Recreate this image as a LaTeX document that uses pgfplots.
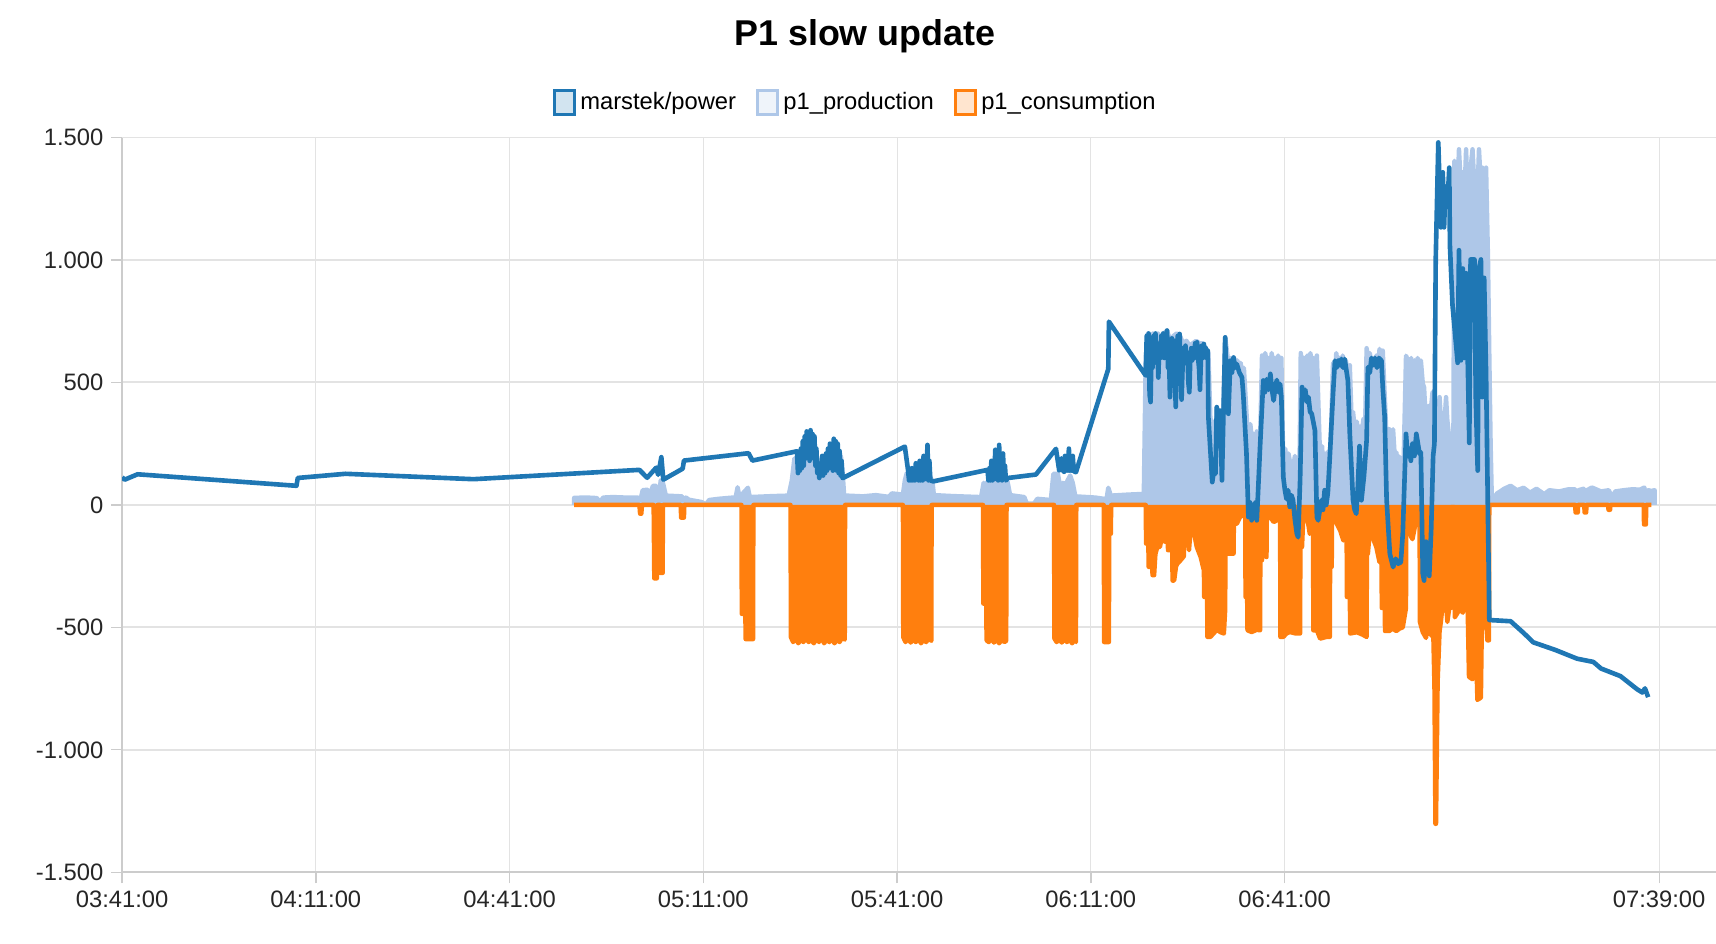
\documentclass[border=0pt]{standalone}
\usepackage{fontspec}
\setmainfont{Liberation Sans}
\usepackage{pgfplots}
\pgfplotsset{compat=1.18}
\definecolor{cm}{HTML}{1F77B4}
\definecolor{cmL}{HTML}{D2E4F0}
\definecolor{cp}{HTML}{AEC7E8}
\definecolor{cpL}{HTML}{EFF4FA}
\definecolor{cc}{HTML}{FF7F0E}
\definecolor{ccL}{HTML}{FFE5CF}
\definecolor{gridc}{HTML}{E3E3E3}
\definecolor{axc}{HTML}{CCCCCC}
\begin{document}
\begin{tikzpicture}
\begin{axis}[
 scale only axis, width=724.5pt, height=334pt,
 xmin=0, xmax=246.8, ymin=-1500, ymax=1500,
 axis lines*=left,
 axis line style={draw=axc, line width=1pt},
 xtick={0,30,60,90,120,150,180,238},
 xticklabels={03:41:00,04:11:00,04:41:00,05:11:00,05:41:00,06:11:00,06:41:00,07:39:00},
 ytick={-1500,-1000,-500,0,500,1000,1500},
 yticklabels={-1.500,-1.000,-500,0,500,1.000,1.500},
 tick align=outside, major tick length=5pt,
 tick style={draw=axc, line width=0.6pt},
 grid=major,
 x grid style={draw=gridc, line width=0.5pt},
 y grid style={draw=gridc, line width=0.9pt},
 ticklabel style={font=\fontsize{10.8}{13}\selectfont, text=black!85},
 title={P1 slow update},
 title style={at={(0.466,1)}, anchor=center, yshift=40pt, font=\bfseries\fontsize{16.3}{19}\selectfont},
 legend columns=3,
 legend style={at={(0.4607,1)}, anchor=center, yshift=16pt, draw=none, fill=none, font=\fontsize{10.8}{13}\selectfont, /tikz/every even column/.append style={column sep=7pt}},
 legend cell align=left,
]
\addlegendimage{legend image code/.code={\draw[line width=1.5pt, draw=cm, fill=cmL] (0pt,-5.5pt) rectangle (9pt,5.5pt);}}
\addlegendentry{marstek/power}
\addlegendimage{legend image code/.code={\draw[line width=1.5pt, draw=cp, fill=cpL] (0pt,-5.5pt) rectangle (9pt,5.5pt);}}
\addlegendentry{p1\_production}
\addlegendimage{legend image code/.code={\draw[line width=1.5pt, draw=cc, fill=ccL] (0pt,-5.5pt) rectangle (9pt,5.5pt);}}
\addlegendentry{p1\_consumption}

% p1_production
\addplot[forget plot, draw=cp, fill=cp, line width=2pt, line join=round] coordinates {
(70,0)(70,29)(72,30)(73.5,28)(74,12)(74.5,30)(76,32)(78,30)
(79.9,30)(80.2,12)(80.6,60)(81.4,62)(81.6,35)(82.2,78)(82.7,78)(83,12)(83.4,100)(83.7,95)(84.2,38)(86.7,35)(87,8)(87.3,30)(87.8,21)(89.7,12)(90.4,2)(90.9,20)(92.4,25)(95,31)(95.3,72)(95.6,32)(96.9,70)(97.2,32)(100.7,36)(103.2,38)
(103.7,100)(104.1,190)(104.4,120)(104.7,170)(105,110)(105.3,210)(105.6,140)(105.9,190)(106.2,120)(106.5,230)(106.8,150)(107.1,200)(107.4,110)(107.7,170)(108,100)(108.3,180)(108.6,120)(108.9,200)(109.2,140)(109.5,230)(109.8,130)(110.1,200)(110.4,150)(110.7,240)(111,140)(111.3,200)(111.6,120)(111.8,40)
(112.2,38)(114.7,35)(116.7,40)(118.7,33)(119.2,47)(120.9,42)
(121.2,100)(121.5,130)(121.8,80)(122.1,120)(122.4,85)(122.7,135)(123,90)(123.3,110)(123.6,80)(123.9,125)(124.2,90)(124.5,130)(124.8,85)(125.1,120)(125.5,90)(125.7,40)(128.7,36)(133,32)
(133.4,90)(133.7,70)(134,95)(134.3,75)(134.6,100)(134.9,80)(135.2,95)(135.5,75)(135.8,100)(136.1,80)(136.4,90)(136.7,75)(137.1,95)(137.5,40)(139.7,32)(140.1,5)(141.2,5)(141.7,25)(143.8,20)(144.2,127)(144.9,127)(145.3,66)(145.7,90)(146.1,80)(146.4,100)(146.8,120)(147.2,90)(147.6,35)(150.7,30)(152,25)(152.3,2)(152.7,70)(153.1,38)(155.7,42)(158.2,45)
(158.5,600)(158.8,700)(159.2,660)(159.6,700)(160,690)(160.4,700)(160.8,680)(161.3,700)(161.8,712)(162.3,670)(162.8,690)(163.3,700)(163.8,690)(164.3,660)(164.8,670)(165.3,650)(165.8,660)(166.3,670)(166.8,660)(167.3,660)(167.8,640)(168.2,620)
(168.5,360)(168.8,300)(169,340)(169.3,250)(169.5,400)(169.8,330)(170,385)(170.3,300)(170.5,380)(170.8,684)(171.2,600)(171.5,540)(171.7,600)(172,560)(172.2,600)(172.5,550)(172.7,590)(173,540)(173.2,580)(173.5,520)(173.7,560)(174.2,330)(174.5,270)(174.7,330)(175,250)(175.2,290)(175.5,230)(175.7,300)(176,220)(176.2,250)
(176.5,610)(176.8,560)(177,620)(177.3,570)(177.5,600)(177.8,560)(178,620)(178.3,540)(178.5,600)(178.8,570)(179,610)(179.3,550)(179.5,600)(179.8,170)(180.1,230)(180.3,160)(180.6,210)(180.8,180)(181.1,120)(181.3,150)(181.6,200)(181.8,160)(182.1,110)(182.3,140)
(182.5,620)(182.8,560)(183,600)(183.3,550)(183.5,610)(183.8,570)(184,620)(184.3,540)(184.5,600)(184.8,560)(185,610)(185.5,190)(185.8,240)(186,150)(186.3,210)(186.5,170)(186.8,220)(187,130)
(187.5,580)(187.8,530)(188,620)(188.3,560)(188.5,600)(188.8,540)(189,610)(189.3,560)(189.5,590)(189.8,500)(190.1,570)(190.4,330)(190.6,380)(190.9,300)(191.2,340)(191.4,250)(191.7,320)(191.9,280)(192.2,350)(192.4,230)
(192.7,640)(193,580)(193.2,620)(193.5,560)(193.7,600)(194,550)(194.2,610)(194.5,570)(194.7,637)(195,580)(195.2,630)(195.7,328)(196,66)(196.2,309)(196.5,250)(196.8,309)(197.1,180)(197.3,215)(197.6,150)(197.8,197)(198.3,28)
(198.8,609)(199.1,590)(199.3,540)(199.6,600)(199.8,550)(200.1,590)(200.4,540)(200.6,600)(200.9,550)(201.1,590)(201.4,496)(201.6,480)(201.9,328)(202.2,403)(202.7,403)(202.9,459)(203.2,253)(203.4,421)(203.7,346)(204,440)(204.2,346)(204.7,309)(205,440)(205.2,346)(205.5,272)(205.8,28)(206.1,20)
(206.3,1405)(206.5,1377)(206.8,1300)(207,1452)(207.3,1300)(207.6,1358)(207.9,1300)(208.1,1452)(208.3,1302)(208.7,1350)(209.1,1452)(209.4,1300)(209.6,1358)(209.9,1300)(210.1,1452)(210.4,1300)(210.6,1377)(210.9,1300)(211.2,1377)(211.5,1000)(211.7,609)(211.9,253)(212.1,10)
(212.4,28)(212.9,47)(213.5,57)(214,66)(215,78)(216,60)(217,70)(218,50)(219,66)(220.2,44)(221,60)(222.5,55)(224,64)(225,64)(225.2,16)(225.5,60)(226.3,66)(226.5,16)(226.8,60)(227.6,71)(229,55)(230.2,60)(230.7,30)(231.2,55)(232.5,60)(233.9,64)(235,62)(235.7,71)(236,30)(236.3,60)(236.8,57)(237.3,60)(237.3,0)
};

% p1_consumption
\addplot[forget plot, draw=cc, fill=cc, line width=2pt, line join=round] coordinates {
(70,0)(80.1,0)(80.2,-36)(80.4,-36)(80.5,0)(82.3,0)(82.4,-300)(82.8,-300)(82.9,0)(83.3,0)(83.35,-278)(83.7,-278)(83.75,0)(86.5,0)(86.55,-52)(87,-52)(87.05,0)
(95.9,0)(95.95,-445)(96.5,-445)(96.55,-548)(97.7,-548)(97.75,0)
(103.5,0)(103.55,-540)(103.9,-560)(104.3,-545)(104.7,-565)(105.1,-550)(105.5,-560)(105.9,-540)(106.3,-560)(106.7,-550)(107.1,-565)(107.5,-545)(107.9,-560)(108.3,-540)(108.7,-565)(109.1,-550)(109.5,-560)(109.9,-545)(110.3,-565)(110.7,-550)(111.1,-560)(111.5,-540)(111.9,-550)(111.95,0)
(120.9,0)(120.95,-540)(121.3,-560)(121.7,-545)(122.1,-562)(122.5,-548)(122.9,-560)(123.3,-545)(123.7,-565)(124.1,-550)(124.5,-560)(124.9,-545)(125.3,-555)(125.35,0)
(133.3,0)(133.35,-403)(133.8,-403)(133.85,-553)(134.2,-560)(134.6,-545)(135,-562)(135.4,-548)(135.8,-565)(136.2,-550)(136.6,-560)(136.9,-555)(136.95,0)
(144.3,0)(144.35,-545)(144.7,-560)(145.1,-548)(145.5,-562)(145.9,-545)(146.3,-560)(146.7,-550)(147.1,-565)(147.5,-550)(147.7,-560)(147.75,0)
(152,0)(152.05,-560)(152.8,-560)(152.85,-118)(153.1,-118)(153.15,0)
(158.5,0)(158.55,-158)(158.9,-158)(158.95,-253)(159.5,-253)(159.55,-287)(159.8,-287)(160,-200)(160.3,-172)(160.7,-172)(161.1,-118)(161.4,-91)(161.45,-150)(161.9,-150)(161.95,-185)(162.6,-185)(162.65,-309)(162.9,-309)(163.2,-250)(163.4,-240)(163.9,-226)(164.4,-210)(164.45,-118)(164.9,-118)(165.2,-185)(165.4,-118)(165.9,-104)(166.4,-172)(167,-213)(167.5,-267)(167.55,-376)(168,-376)(168.05,-539)(168.5,-539)(169,-525)(169.5,-510)(170.1,-520)(170.6,-525)(170.8,-430)(170.85,-199)(171.6,-199)(172.1,-199)(172.15,-77)(172.6,-77)(173.1,-50)(173.9,-36)(173.95,-376)(174.2,-376)(174.25,-512)(174.9,-519)(175.7,-510)(176.2,-512)(176.25,-226)(176.5,-226)(176.7,-131)(177.2,-213)(177.25,-50)(177.8,-50)(178.3,-70)(178.8,-63)(179.3,-36)(179.35,-539)(179.8,-539)(180.3,-525)(180.8,-519)(181.7,-525)(182.4,-525)(182.45,-172)(182.7,-172)(182.9,-50)(183.4,-36)(183.9,-118)(184.4,-100)(184.45,-512)(185,-512)(185.5,-546)(186.5,-539)(187,-539)(187.05,-253)(187.3,-253)(187.35,-63)(187.8,-63)(188.6,-104)(189.1,-145)(189.6,-110)(189.65,-376)(190.1,-376)(190.15,-525)(191.2,-520)(192.1,-530)(192.7,-539)(192.75,-199)(192.9,-199)(193.2,-104)(194.2,-172)(194.7,-234)(195,-213)(195.05,-421)(195.5,-421)(195.55,-515)(196.2,-515)(196.7,-505)(197.3,-515)(197.8,-505)(198.3,-500)(198.8,-421)(198.85,-9)(199.1,-9)(199.3,-100)(199.6,-130)(199.8,-140)(200.1,-100)(200.4,-50)(200.9,-50)(200.95,-478)(201.4,-520)(201.9,-543)(202.4,-440)(202.7,-534)(203,-500)(203.2,-740)(203.35,-1302)(203.45,-1302)(203.7,-721)(204,-515)(204.2,-478)(204.5,-400)(204.7,-421)(205,-400)(205.2,-478)(205.5,-421)(205.75,-421)(205.8,-9)(206.3,-9)(206.35,-459)(206.8,-440)(207,-420)(207.6,-440)(208.3,-365)(208.55,-702)(209.1,-712)(209.15,-500)(209.6,-550)(209.85,-796)(210.4,-787)(210.55,-478)(211.2,-478)(211.4,-553)(211.65,-553)(211.7,0)
(225,0)(225.05,-31)(225.4,-31)(225.45,0)(226.4,0)(226.45,-31)(226.7,-31)(226.75,0)(230.1,0)(230.15,-20)(230.4,-20)(230.45,0)(235.6,0)(235.65,-80)(235.95,-80)(236,0)(236.8,0)
};

% marstek/power
\addplot[forget plot, draw=cm, line width=2.1pt, line join=round] coordinates {
(0,113)(0.4,103)(2.4,125)(27,78)(27.2,110)(34.6,127)(54.4,105)(80.1,143)(81.3,111)(82.7,152)(83,123)(83.5,195)(83.8,103)(86.8,148)(87,181)(97,211)(97.6,181)
(104.5,219)(104.65,130)(104.8,200)(104.95,140)(105.1,230)(105.25,150)(105.4,260)(105.55,160)(105.7,280)(105.85,190)(106,300)(106.15,200)(106.3,290)(106.45,180)(106.6,305)(106.75,210)(106.9,290)(107.05,190)(107.2,280)(107.35,160)(107.5,230)(107.65,130)(107.8,170)(107.95,110)(108.1,160)(108.25,120)(108.4,200)(108.55,120)(108.7,170)(108.85,130)(109,210)(109.15,140)(109.3,230)(109.45,150)(109.6,250)(109.75,160)(109.9,240)(110.05,140)(110.2,270)(110.35,150)(110.5,260)(110.65,140)(110.8,250)(110.95,130)(111.1,220)(111.25,120)(111.4,180)(111.55,110)(111.7,111)
(121.2,238)(121.7,141)(121.85,100)(122,140)(122.15,100)(122.3,150)(122.45,100)(122.6,130)(122.75,100)(122.9,170)(123.05,105)(123.2,140)(123.35,100)(123.5,180)(123.65,100)(123.8,150)(123.95,100)(124.1,200)(124.25,105)(124.4,170)(124.55,110)(124.7,245)(124.85,100)(125,180)(125.15,100)(125.6,96)
(134,143)(134.15,100)(134.3,150)(134.45,100)(134.6,180)(134.75,100)(134.9,160)(135.05,105)(135.2,225)(135.35,110)(135.5,180)(135.65,100)(135.8,245)(135.95,110)(136.1,200)(136.25,100)(136.4,210)(136.55,105)(136.7,160)(136.85,100)(137.2,110)
(141.5,124)(144.6,229)(145.1,141)(145.25,180)(145.4,190)(145.55,140)(145.7,160)(145.85,135)(146,200)(146.15,140)(146.3,170)(146.45,140)(146.6,230)(146.75,140)(146.9,180)(147.05,140)(147.2,200)(147.35,140)(147.5,135)(147.7,134)(152.7,555)(152.8,748)
(158.5,528)(158.65,690)(158.8,600)(158.95,700)(159.1,450)(159.25,420)(159.4,650)(159.55,560)(159.7,690)(159.85,600)(160,700)(160.15,580)(160.3,640)(160.45,520)(160.6,660)(160.75,600)(160.9,690)(161.05,620)(161.2,700)(161.35,600)(161.5,680)(161.65,640)(161.8,712)(161.95,560)(162.1,620)(162.25,440)(162.4,600)(162.55,680)(162.7,620)(162.85,671)(163,520)(163.15,400)(163.3,600)(163.45,690)(163.6,620)(163.75,698)(163.9,540)(164.05,430)(164.2,560)(164.35,640)(164.5,590)(164.65,650)(164.8,580)(164.95,620)(165.1,500)(165.25,460)(165.4,600)(165.55,640)(165.7,590)(165.85,630)(166,600)(166.15,660)(166.3,610)(166.45,664)(166.6,600)(166.75,560)(166.9,470)(167.05,600)(167.2,650)(167.35,600)(167.5,657)(167.65,610)(167.8,640)(167.95,600)(168.1,630)
(168.2,358)(168.8,93)(169.05,140)(169.3,127)(169.5,399)(169.75,340)(170,385)(170.3,100)(170.8,684)(171.05,450)(171.3,372)(171.6,589)(171.85,540)(172.1,602)(172.35,560)(172.6,575)(173,540)(173.4,521)(173.6,453)(174.1,209)(174.4,-50)(174.65,10)(174.9,-63)(175.1,0)(175.3,-50)(175.5,10)(175.7,-63)(176.2,236)(176.7,508)(176.95,460)(177.2,513)(177.5,470)(177.8,535)(178.05,470)(178.3,426)(178.55,480)(178.8,510)(179.05,460)(179.3,494)(179.5,440)(179.8,114)(180.05,60)(180.3,24)(180.55,60)(180.8,-8)(181.05,40)(181.3,20)(181.6,-60)(181.9,-118)(182.1,-132)(182.4,100)(182.7,481)(182.95,430)(183.2,470)(183.45,420)(183.7,440)(183.95,380)(184.2,372)(184.7,304)(185,-50)(185.2,-63)(185.7,19)(185.95,-20)(186.2,60)(186.45,0)(186.7,50)(187,195)(187.5,453)(187.8,589)(188.05,560)(188.3,590)(188.55,570)(188.8,596)(189.05,560)(189.3,596)(189.8,508)(190.1,290)(190.6,19)(190.85,-20)(191.1,-36)(191.35,80)(191.6,240)(191.9,19)(192.3,120)(192.7,263)(192.9,562)(193.2,540)(193.45,600)(193.7,570)(194,600)(194.3,560)(194.6,600)(195,589)(195.2,480)(195.5,358)(195.8,19)(196.3,-200)(196.8,-254)(197.2,-220)(197.6,-240)(198,-234)(198.3,-118)(198.8,290)(199.05,200)(199.3,230)(199.55,180)(199.8,250)(200.1,200)(200.4,290)(200.9,208)(201.1,215)(201.4,-281)(201.6,-309)(201.9,-150)(202.4,-290)(202.7,-100)(203,200)(203.2,250)(203.4,1000)(203.8,1480)(204.2,1133)(204.5,1358)(204.7,1133)(204.9,1300)(205.2,1226)(205.5,1377)(205.6,1058)(206,815)(206.8,580)(207,1040)(207.3,590)(207.6,965)(207.8,600)(208.1,946)(208.6,253)(208.8,1002)(209.4,1002)(209.6,440)(209.9,140)(210.1,965)(210.4,1002)(210.6,440)(210.9,927)(211.2,534)(211.7,-470)
(215,-475)(217.1,-525)(218.5,-561)(221.9,-592)(225.3,-628)(227.8,-641)(229,-668)(232,-699)(234.6,-753)(235.4,-766)(235.8,-749)(236.3,-785)
};
\end{axis}
\pgfresetboundingbox
\path[use as bounding box] (-55.5pt,-32.5pt) rectangle (724.5pt,396.5pt);
\end{tikzpicture}
\end{document}
